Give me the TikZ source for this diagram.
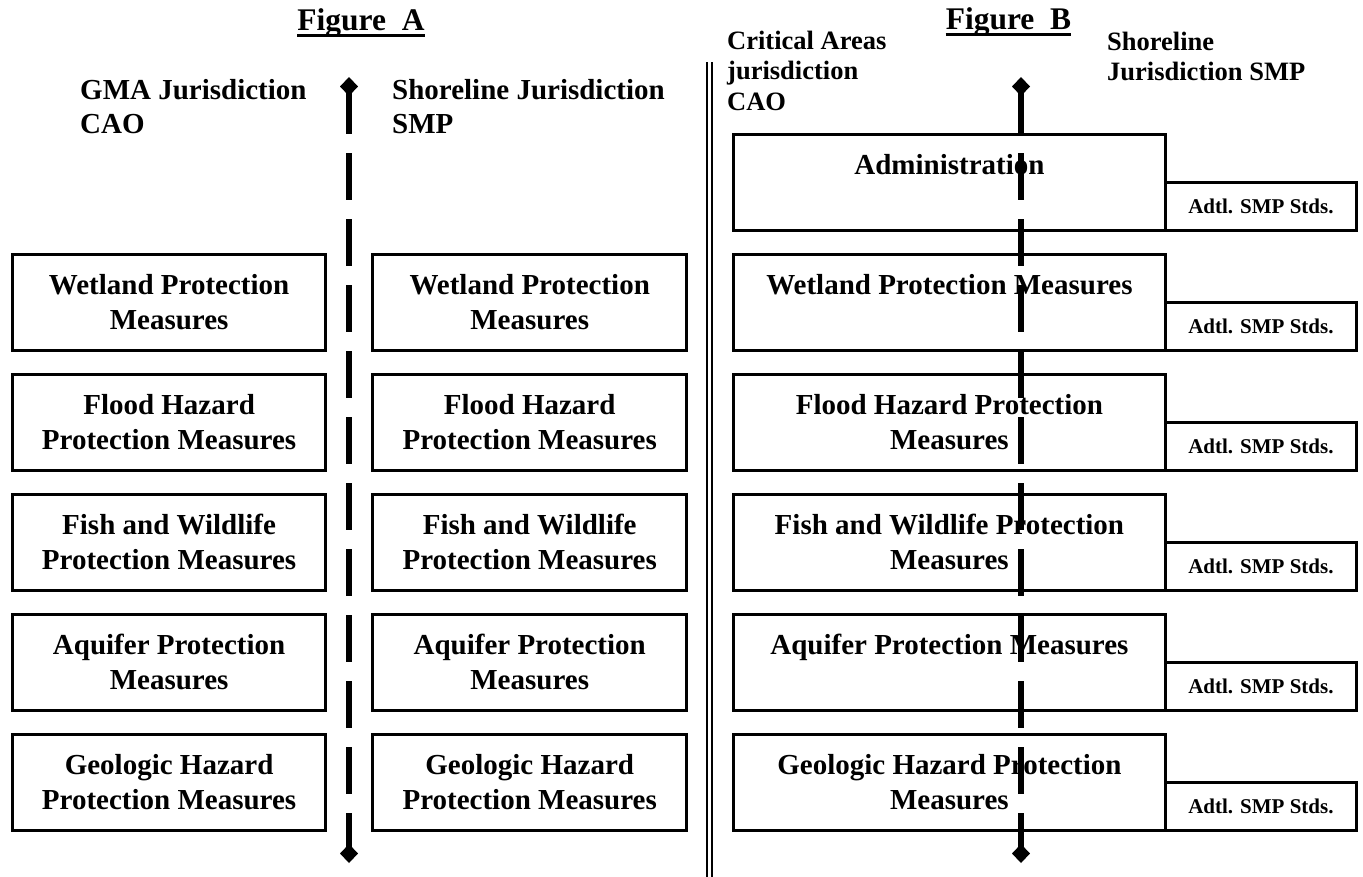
\documentclass[tikz,border=0pt]{standalone}
\usepackage{fontspec}
\setmainfont{Liberation Serif}
\usepackage{tikz}
\usetikzlibrary{positioning}
\usetikzlibrary{arrows.meta}
\tikzset{box/.style={draw, line width=3pt, inner sep=0pt, outer sep=0pt, align=center, font=\fontsize{29}{35.5}\selectfont\bfseries}}
\tikzset{btext/.style={inner sep=0pt, align=center, font=\fontsize{29}{35.5}\selectfont\bfseries}}
\tikzset{adtl/.style={draw, line width=3pt, inner sep=0pt, outer sep=0pt, minimum width=191.7pt, minimum height=47.8pt, font=\fontsize{21}{25}\selectfont\bfseries}}
\tikzset{head/.style={inner sep=0pt, align=left, font=\fontsize{29}{34}\selectfont\bfseries}}
\tikzset{headB/.style={inner sep=0pt, align=left, font=\fontsize{26.5}{30.5}\selectfont\bfseries}}
\tikzset{title/.style={inner sep=0pt, font=\fontsize{31.5}{36}\selectfont\bfseries}}
\tikzset{divider/.style={line width=6.5pt, dash pattern=on 47pt off 19pt, dash phase=4pt, {Diamond[length=19pt,width=18pt]}-{Diamond[length=19pt,width=18pt]}}}

\begin{document}
\begin{tikzpicture}[x=1pt,y=-1pt]
\useasboundingbox (0,0) rectangle (1363,876);
% titles
\node[title, anchor=base] (figA) at (361,30) {Figure\ \ A};
\node[title, anchor=base] (figB) at (1008.5,29.5) {Figure\ \ B};
\draw[line width=3.5pt] ([yshift=-5.5pt]figA.base west) -- ([yshift=-5.5pt]figA.base east);
\draw[line width=3.5pt] ([yshift=-5pt]figB.base west) -- ([yshift=-5pt]figB.base east);
% column heads
\node[head, anchor=north west] (gma) at (80,79.3) {GMA Jurisdiction\\CAO};
\node[head, anchor=north west] (shoreA) at (392,79.3) {Shoreline Jurisdiction\\SMP};
\node[headB, anchor=north west] (crit) at (727,30.7) {Critical Areas\\jurisdiction\\CAO};
\node[headB, anchor=north west] (shoreB) at (1107,31.7) {Shoreline\\Jurisdiction SMP};
% Figure A
\foreach \txt [count=\i from 1] in {{Wetland Protection\\Measures},{Flood Hazard\\Protection Measures},{Fish and Wildlife\\Protection Measures},{Aquifer Protection\\Measures},{Geologic Hazard\\Protection Measures}} {
  \node[box, minimum width=313.2pt, minimum height=95.8pt] (cao\i) at (169.1,182.1+120*\i) {\txt};
  \node[box, minimum width=314pt, minimum height=95.8pt] (smp\i) at (529.7,182.1+120*\i) {\txt};
}
% Figure B
\foreach \txt [count=\i from 0] in {Administration,Wetland Protection Measures,{Flood Hazard Protection\\Measures},{Fish and Wildlife Protection\\Measures},Aquifer Protection Measures,{Geologic Hazard Protection\\Measures}} {
  \node[box, minimum width=431.3pt, minimum height=95.8pt] (ca\i) at (949.4,182.1+120*\i) {};
  \node[btext, anchor=north] (cat\i) at ([yshift=-19.5pt]ca\i.north) {\txt};
  \node[adtl, anchor=south west] (std\i) at (ca\i.south east) {Adtl. SMP Stds.};
}
% jurisdiction lines
\coordinate (atop) at (349,77);
\coordinate (abot) at (349,863);
\coordinate (btop) at (1021,77);
\coordinate (bbot) at (1021,863);
\draw[divider] (atop) -- (abot);
\draw[divider] (btop) -- (bbot);
\coordinate (sep1) at (709.4,62);
\coordinate (sep2) at (709.4,880);
\draw[double, line width=2pt, double distance=3.3pt] (sep1) -- (sep2);
\end{tikzpicture}
\end{document}
